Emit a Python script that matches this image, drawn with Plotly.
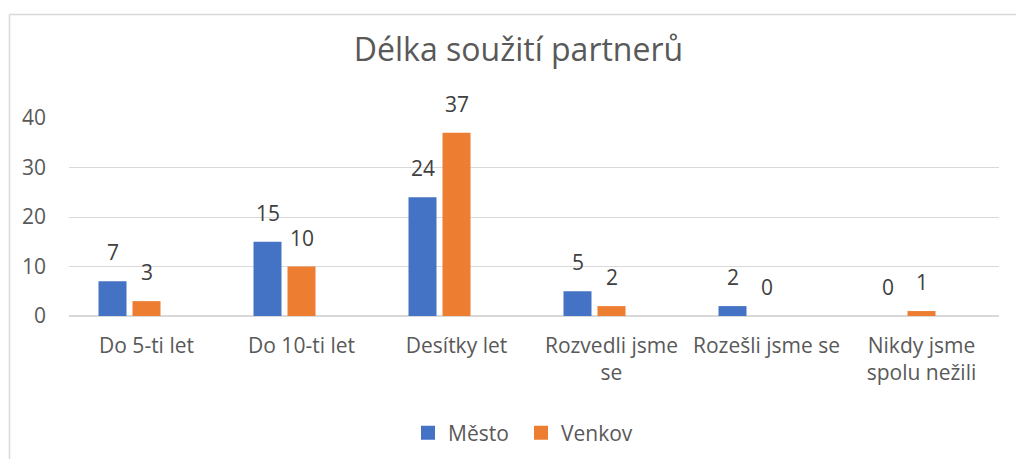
import plotly.graph_objects as go

categories = ["Do 5-ti let", "Do 10-ti let", "Desítky let", "Rozvedli jsme<br>se",
              "Rozešli jsme se", "Nikdy jsme<br>spolu nežili"]
mesto = [7, 15, 24, 5, 2, 0]
venkov = [3, 10, 37, 2, 0, 1]
series_names = ["Město", "Venkov"]
colors = ["#4472C4", "#ED7D31"]
y_ticks = [0, 10, 20, 30, 40]

FONT = "Open Sans"
W, H = 1016, 459
L, R, T, B = 69, 17, 118, 143
cat_px = (W - L - R) / len(categories)
bar_w = 28 / cat_px
offsets = [-48 / cat_px, -14 / cat_px]
label_shift = [-34, 0]

fig = go.Figure()
for name, vals, col, off in zip(series_names, [mesto, venkov], colors, offsets):
    fig.add_trace(go.Bar(x=categories, y=vals, name=name, marker_color=col,
                         width=bar_w, offset=off, marker_line_width=0, showlegend=False))
# legend entries with larger square swatches
for name, col in zip(series_names, colors):
    fig.add_trace(go.Scatter(x=[None], y=[None], mode="markers", name=name,
                             marker=dict(symbol="square", size=14, color=col)))

annotations = []
for vals, xs in zip([mesto, venkov], label_shift):
    for c, v in zip(categories, vals):
        annotations.append(dict(x=c, y=v, xref="x", yref="y", text=str(v), showarrow=False,
                                xshift=xs, yanchor="bottom", yshift=13,
                                font=dict(family=FONT, size=21, color="#404040")))

ph = H - T - B
pw = W - L - R
bx = (9.5 - L) / pw
by = (H - B - 14.5) / ph
shapes = [
    dict(type="line", xref="paper", yref="paper", x0=bx, x1=bx, y0=-2, y1=by,
         line=dict(color="#D9D9D9", width=1.5)),
    dict(type="line", xref="paper", yref="paper", x0=bx, x1=1.2, y0=by, y1=by,
         line=dict(color="#D9D9D9", width=1.5)),
]

fig.update_layout(
    width=W, height=H,
    margin=dict(l=L, r=R, t=T, b=B, autoexpand=False),
    paper_bgcolor="white", plot_bgcolor="white",
    font=dict(family=FONT, size=21, color="#595959"),
    title=dict(text="Délka soužití partnerů", x=518.5 / W, xref="container", xanchor="center",
               y=1 - 50 / H, yref="container", yanchor="middle",
               font=dict(family=FONT, size=32, color="#595959")),
    barmode="group",
    showlegend=True,
    legend=dict(orientation="h", x=(521 - L) / pw, xanchor="center",
                y=(H - B - 433) / ph, yanchor="middle",
                entrywidth=68, entrywidthmode="pixels",
                font=dict(family=FONT, size=21, color="#595959"),
                bgcolor="rgba(0,0,0,0)"),
    annotations=annotations,
    shapes=shapes,
)
fig.update_xaxes(showgrid=False, showline=False, ticks="", zeroline=False,
                 tickfont=dict(family=FONT, size=21, color="#595959"),
                 ticklabelstandoff=15)
fig.update_yaxes(range=[0, 40], tickvals=y_ticks, showgrid=True, gridcolor="#D9D9D9",
                 gridwidth=1.2, zeroline=True, zerolinecolor="#D9D9D9", zerolinewidth=1.5,
                 showline=False, ticks="", ticklabelstandoff=22,
                 tickfont=dict(family=FONT, size=21, color="#595959"))

fig.write_html("out.html", config={"displayModeBar": False},
               post_script="document.body.style.margin='0';document.body.style.overflow='hidden';")
